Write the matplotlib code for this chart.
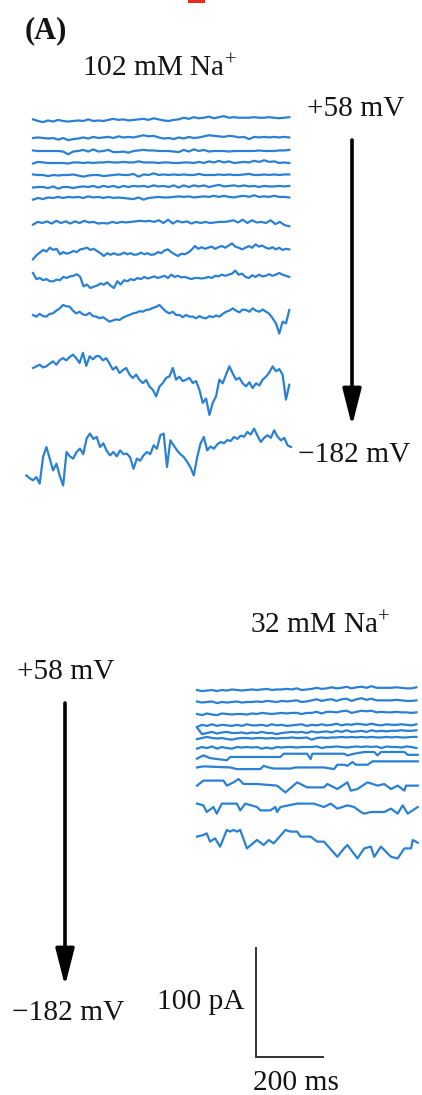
import numpy as np
import matplotlib
matplotlib.use("Agg")
import matplotlib.pyplot as plt

plt.rcParams['font.family'] = ['Liberation Serif', 'DejaVu Serif']
plt.rcParams['mathtext.fontset'] = 'custom'
plt.rcParams['mathtext.rm'] = 'Liberation Serif'
plt.rcParams['mathtext.it'] = 'Liberation Serif:italic'

# ---------------- data ----------------
PANEL_LABEL = "(A)"
TOP_TITLE = r"102 mM Na$^{+}$"
BOTTOM_TITLE = r"32 mM Na$^{+}$"
V_START = "+58 mV"
V_END = "\u2212182 mV"
SCALE_PA = 100   # pA
SCALE_MS = 200   # ms
SCALE_LABEL_Y = "100 pA"
SCALE_LABEL_X = "200 ms"

# top panel (102 mM Na+): current traces, pA deviations, uniformly sampled
top_t1 = [1.5,0,-1,0.5,-0.5,1,0,-0.5,0,0.5,0,1.5,0,0.5,0,1,2,1,1.5,0.5,1,1.5,2,1,2.5,1.5,0.5,0,1,1.5,3,2,3.5,2.5,3,4,2.5,3.5,4.5,3,3.5,3,3,3,3.5,3,3,3.5,3,2.5,3,3.5]
top_t2 = [0,0.5,0,-0.5,0,-1.5,0,-2,-1,-0.5,0.5,-0.5,1,0,0.5,1,0,1.5,0.5,1,0.5,1.5,2.5,1.5,2,0.5,-0.5,0,-1,0.5,-0.5,1,0,0.5,1.5,2.5,2,1.5,1,2,1.5,0.5,1,-1,1,0.5,1,0.5,1,0.5,1,0.5]
top_t3 = [0.5,0,0,0,0,0,-0.5,-3,-0.5,0,1,-0.5,1.5,-0.5,0,1,-1,-1,-0.5,-1.5,0,0.5,1,0.5,0.5,0,0,0,-0.5,-1,1,-0.5,1.5,0,1,-0.5,0,0,0,-0.5,0,0,0,0,0,0.5,0,0,0,0.5,0.5,1]
top_t4 = [-0.5,1,0.5,0,0,0,0,-0.5,0.5,0.5,0,0.5,0,0.5,0.5,1,0.5,0.5,1,0.5,0.5,1.5,0.5,0.5,0.5,0,0.5,0.5,0,0,0.5,0.5,0,1,0,1.5,0.5,2,0.5,1.5,0,0.5,1,0.5,2,1,2.5,1,1.5,0,0.5,0]
top_t5 = [0.5,0,0,-1,0,-0.5,0,0,0.5,-0.5,-1.5,-0.5,0,0,-1,-0.5,0,0.5,0,0,1,-1.5,0.5,0,1.5,0,0.5,0,0.5,0,0.5,0,0,1,0,0,0,0.5,0,0.5,0,0,0.5,1,0,0,0.5,0,0.5,0,0.5,0.5]
top_t6 = [-0.5,0,0,-1,0.5,-1.5,0,0,-1,0,0.5,0,1,-0.5,1,0,1,-0.5,1,0,1,0.5,1,0,1.5,0.5,1,0,1.5,-0.5,1.5,0,1.5,0.5,1.5,0,1,2,0.5,1,1.5,0.5,1.5,0.5,1,0,1,0.5,0.5,1,0.5,1]
top_t7 = [-1.5,0,-1,0.5,0,1,0,1,0.5,1,0,1.5,0.5,1,0,1,0,0.5,0,-0.5,-1,0.5,-1.5,0,0.5,1,0.5,0.5,1,1.5,1,1.5,0.5,1,1.5,1,2,1,2,1,0.5,1.5,2,1,2.5,1,1.5,1,2,1,1,0.5]
top_t8 = [-1.5,1,0,1.5,-0.5,2,0,1.5,-0.5,1.5,0,2,0.5,1,-0.5,0,-0.5,1,0,1,0.5,1,1.5,2,1.5,2,1,2.5,0,3,-0.5,2,0.5,1.5,-0.5,1,0,1,0,0.5,1,1,1.5,2.5,0.5,3,0,2.5,0.5,1,0,2.5,-1,1,-2,-3]
top_t9 = [-7.7,-4,-1.5,1,-0.5,3.1,1,2,-3.1,-1,-2.5,-1.5,0,-1,1.5,2,3.1,1,2,0,-2,-4.6,-2,-3.5,-2,-3.5,-3.1,-1.5,-3,-2,-3.5,-3.1,-1.5,-3,-2,-3.5,-3.1,-1,-2,0.5,1.5,-1,-3,-4.6,-2.5,-3,-1.5,1,4.6,2,3.5,2,3.1,4,2,3.5,4.6,3,5,7,4,3,1.5,3,4.5,3,6.1,4,5,3.1,2,3.5,1.5,3,1,2,1.5]
top_t10 = [4.6,-1,0,-2,-1,-3,-3.1,-1.5,-2,1,0,1.5,2,3.5,1,-7.7,-6,-9.2,-8,-7,-5,-6.1,-4,-7,-9.2,-3,-6,-2,-3,-1,-2,0,-1,1,-0.5,0.5,1.5,0,1,2,0,3.1,1,2,0.5,1,0,-1,0,0,-0.5,0,1,0,2,1.5,3.1,2,3,4,6.8,3,4,1,0,2.5,1,3,1.5,2,3.5,2,3.1,4.6,3,2,1]
top_t11 = [0,-1.5,1,-1,-1.5,1,1.5,4,6,9.2,8,7.7,4,1.5,3,0.5,0,2,-1,-1.5,-3,-2,-4,-6.1,-5,-4,-4.6,-2.5,-1,0,1.5,2,3.5,3,4.6,5,6.5,7.5,9.2,6,3.1,1.5,3,0,0,-2,0,-1.5,-1.5,-3,-1,-2.5,-3.1,-1,-2,-0.5,-1.5,1,3,4,6.1,4,2.5,5,4.6,3,6.1,4,3,5,3.1,1,-3,-7.7,-17,-6.1,-7.7,4.6]
top_t12 = [0,1.5,3.1,0.5,1.5,4,6.1,3,7,9.2,7,10,12.3,9,4.6,14,2,10.7,8,11,10.7,7,9,4,-1.5,1,-4.6,-2,0,-6,-9.2,-6,-11,-13.8,-11,-17,-20,-26,-17,-13.8,-9,-7.7,0,-10.7,-8,-12,-10.7,-9,-13.8,-12,-20,-32,-28,-43,-32,-26,-10.7,-14,-6,1.5,-5,-10.7,-9,-14,-16.9,-13,-18.4,-14,-16,-10.7,-8,-4,1.5,-3,-1,-6.1,-29,-15.4]
top_t13 = [-21.5,-24,-26,-23,-29,-4.6,4.6,-6.1,-16.9,-10.7,-22,-30.7,0,-4,-6.1,0,3.1,-2,12.3,16.9,12,13.8,4.6,8,1,-3.1,0,-4,1.5,-2,-1.5,-5,-15.4,-6.1,-8,-3,0,-2,6.1,3,15.4,16.9,-13.8,10.7,6,1.5,-2,-4.6,-9,-14,-21.5,-5,7.7,13.8,1.5,5,3,7,9.2,8,11,10,13.8,12,15,14,18.4,16,21.5,15,9.2,13,15.4,13,19.9,14,10.7,13,6.1,4.6]
top_traces = [top_t1, top_t2, top_t3, top_t4, top_t5, top_t6, top_t7,
              top_t8, top_t9, top_t10, top_t11, top_t12, top_t13]
top_spans_ms = [(0, 765)] * 12 + [(-20, 770)]

# bottom panel (32 mM Na+)
bot_t1 = [0,-1,-0.5,0,-1,0,-0.5,0.5,0,-0.5,0,0.5,0,0.5,1,0,0.5,0.5,1,0.5,1.5,0,0.5,1,2,1,1.5,2.5,1.5,2,3,1.5,2.5,3,2,3.5,2,2,2,2,2.5,2,1.5,1.5,2.5]
bot_t2 = [0.5,-0.5,0,0.5,-1,0,-0.5,0,0.5,-0.5,0,0,0.5,0,1,0.5,0,1,0.5,1,1.5,0,0.5,1.5,2.5,1,2,2.5,1,2.5,3,1,2.5,3.5,2,3,1.5,1.5,1.5,1.5,2,1.5,1,1,1.5]
bot_t3 = [0,-1,0.5,-0.5,-1,0.5,0,-0.5,0,0,-0.5,0.5,0,1,0.5,0,0.5,1,0.5,1,1,0,1,1,2,0.5,2,2,1.5,2.5,3,1,2,3,2.5,3,1.5,2,1.5,1.5,2,1.5,1.5,1,1.5]
bot_t4 = [0,2,1,2.5,1,2,1.5,1,2,1,2.5,1.5,1.5,2,1,2.5,1.5,2,1,1.5,2,2.5,1,2,1.5,2.5,1.5,2,3,1.5,2.5,2,3,2.5,2,3,2,1.5,2.5,2,2,2.5,2,1.5,2.5]
bot_t5 = [5,-1,0,1,-0.5,0.5,1,0,0,0.5,-0.5,0.5,0,1,0,0,-1,0,0.5,1,0.5,1,0,1.5,0.5,1,1.5,0.5,2,1,2.5,1,1.5,2,1,2.5,1.5,2,1.5,2,2,2.5,2,2,2.5]
bot_t6 = [-1,0,1,0,-0.5,0,-1,-1.5,-0.5,0,0,-0.5,0,0,-0.5,0,-0.5,0,0,0.5,0,0,0.5,-1.5,0,0.5,0,0.5,0.5,1,0.5,1,0.5,1,0.5,1,0.5,0.5,1,0.5,1,0.5,0.5,1,1]
bot_t7 = [-1.5,0,-1,0.5,-1.5,0,-1,-1.5,0,-0.5,0,-0.5,0,-1.5,-0.5,-1.5,0,-0.5,0,0,-0.5,0,0,0,0.5,-1,0,0,0.5,0,-0.5,0,0.5,0,0.5,0,0.5,-1,0.5,0,0,-0.5,0.5,0,-1]
bot_uniform = [bot_t1, bot_t2, bot_t3, bot_t4, bot_t5, bot_t6, bot_t7]
bot_uniform_span_ms = (0, 655)

# step-like traces as (time ms, current pA) pairs
bot_t8_ms = [0,19,39,89,99,249,259,329,339,344,439,449,469,499,529,539,549,619,629,659]
bot_t8_pa = [-1.5,1.5,-1,-3,0,0,3,3,-2,3,3,1.5,3,4.6,4.6,1.5,4.6,4.6,2,2]
bot_t9_ms = [0,19,99,119,189,199,214,229,279,294,379,409,419,439,449,464,474,509,524,659]
bot_t9_pa = [0.5,1.5,0.5,-1,-1,2,0.5,-0.5,-0.5,0.5,0.5,-1,3,3,2,5.5,3,3,6.1,6.1]
bot_t10_ms = [0,19,79,89,109,124,139,179,239,264,299,329,379,389,419,449,459,479,509,539,559,579,599,619,624,659]
bot_t10_pa = [-1.5,3.1,3.1,-1.5,1.5,4.6,0,0,-1.5,-7.7,1.5,-3.1,-3.1,0,-4.6,1.5,-6.1,-4.6,1.5,-1.5,0,-4.6,-1.5,-6.1,-1.5,-1.5]
bot_t11_ms = [0,19,29,49,59,74,119,129,144,179,189,219,234,239,249,299,349,379,399,419,449,469,489,499,519,559,579,599,614,629,659]
bot_t11_pa = [3.1,1.5,-4.6,0,-6.1,3.1,3.1,-3.1,3.1,0,-3.1,-3.1,0,-4.6,0,3.1,3.1,0,3.1,-1.5,1.5,0,-4.6,-6.1,-4.6,-4.6,-1.5,-6.1,1.5,-6.1,0]
bot_t12_ms = [0,19,29,39,54,69,89,99,109,119,129,149,179,199,214,229,264,279,299,309,339,359,379,419,439,449,479,499,519,529,549,579,599,619,639,644,659]
bot_t12_pa = [3.1,4.6,6.1,-1.5,1.5,-6.1,9.2,7.7,9.2,7.7,9.2,-7.7,0,-4.6,0,-3.1,9.2,7.7,7.7,3.1,3.1,-1.5,-1.5,-15.4,-7.7,-4.6,-16.9,-7.7,-6.1,-15.4,-6.1,-15.4,-16.9,-7.7,-7.7,0,-2.5]
bot_pairs = [(bot_t8_ms, bot_t8_pa), (bot_t9_ms, bot_t9_pa), (bot_t10_ms, bot_t10_pa),
             (bot_t11_ms, bot_t11_pa), (bot_t12_ms, bot_t12_pa)]

# ---------------- layout (pixel positions in the 422x1095 figure) ----------------
W, H = 422, 1095
MS_PER_PX = SCALE_MS / 67.0
PA_PER_PX = SCALE_PA / 109.0

def X(px):
    return px * MS_PER_PX

def Y(py):
    return (H - py) * PA_PER_PX

TOP_X0 = 33
TOP_BASE = [121, 138, 151, 163, 175, 187, 198, 223, 251, 278, 315, 368, 452]
BOT_X0 = 197
BOT_BASE = [690, 702, 714, 727, 733, 738, 747, 757, 768, 784, 807, 840]

TRACE_COLOR = '#2a80d2'
TEXT_COLOR = '#141414'
FS = 21.2

fig = plt.figure(figsize=(W / 100, H / 100), dpi=100)
ax = fig.add_axes([0, 0, 1, 1])
ax.set_xlim(0, X(W))
ax.set_ylim(0, Y(0))
ax.axis('off')

lw = 1.6
for vals, (t0, t1), base in zip(top_traces, top_spans_ms, TOP_BASE):
    t = np.linspace(t0, t1, len(vals))
    ax.plot(X(TOP_X0) + t, Y(base) + np.asarray(vals), color=TRACE_COLOR, lw=lw,
            solid_joinstyle='round')

for vals, base in zip(bot_uniform, BOT_BASE[:7]):
    t = np.linspace(*bot_uniform_span_ms, len(vals))
    ax.plot(X(BOT_X0) + t, Y(base) + np.asarray(vals), color=TRACE_COLOR, lw=lw,
            solid_joinstyle='round')
for (tms, ipa), base in zip(bot_pairs, BOT_BASE[7:]):
    ax.plot(X(BOT_X0) + np.asarray(tms), Y(base) + np.asarray(ipa), color=TRACE_COLOR,
            lw=lw, solid_joinstyle='round')

# texts
ax.text(X(25), Y(31), PANEL_LABEL, fontsize=FS + 0.8, fontweight='bold', color=TEXT_COLOR,
        ha='left', va='center')
ax.text(X(82), Y(69), TOP_TITLE, fontsize=FS, color=TEXT_COLOR, ha='left', va='center')
ax.text(X(307), Y(109), V_START, fontsize=FS, color=TEXT_COLOR, ha='left', va='center')
ax.text(X(298), Y(455), V_END, fontsize=FS, color=TEXT_COLOR, ha='left', va='center')
ax.text(X(250), Y(626), BOTTOM_TITLE, fontsize=FS, color=TEXT_COLOR, ha='left', va='center')
ax.text(X(17), Y(672), V_START, fontsize=FS, color=TEXT_COLOR, ha='left', va='center')
ax.text(X(12), Y(1013), V_END, fontsize=FS, color=TEXT_COLOR, ha='left', va='center')
ax.text(X(157), Y(1002), SCALE_LABEL_Y, fontsize=FS, color=TEXT_COLOR, ha='left', va='center')
ax.text(X(253), Y(1083), SCALE_LABEL_X, fontsize=FS, color=TEXT_COLOR, ha='left', va='center')

# arrows
arrow_style = '-|>,head_length=1.5,head_width=0.38'
for xpx, y0, y1 in [(352, 140, 426), (65, 703, 986)]:
    ax.annotate('', xy=(X(xpx), Y(y1)), xytext=(X(xpx), Y(y0)),
                arrowprops=dict(arrowstyle=arrow_style, lw=2.6, color='black',
                                mutation_scale=15, shrinkA=0, shrinkB=0))

# scale bar
sx, sy = X(256), Y(1057)
ax.plot([sx, sx, sx + SCALE_MS], [sy + SCALE_PA, sy, sy], color='#222222', lw=1.3,
        solid_joinstyle='miter')

# small red mark at top edge
ax.add_patch(plt.Rectangle((X(188), Y(3)), X(17), 3 * PA_PER_PX, color='#e82a1e', lw=0))

fig.savefig('out.png', dpi=100)
